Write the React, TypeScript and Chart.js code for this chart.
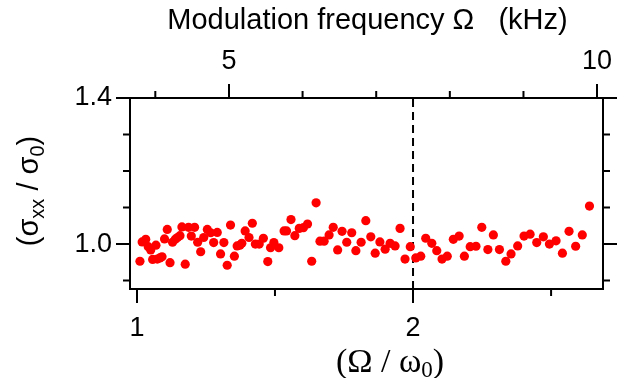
import React, { useEffect, useRef } from "react";
import { Chart, registerables } from "chart.js";

Chart.register(...registerables);

// ---- data ----
const ratioX: number[] = [
  1.011, 1.019, 1.032, 1.041, 1.05, 1.057, 1.069, 1.074, 1.083, 1.091,
  1.1, 1.11, 1.12, 1.129, 1.139, 1.147, 1.156, 1.163, 1.175, 1.187,
  1.197, 1.209, 1.22, 1.231, 1.242, 1.255, 1.267, 1.278, 1.291, 1.303,
  1.315, 1.327, 1.339, 1.353, 1.363, 1.373, 1.38, 1.392, 1.406, 1.418,
  1.429, 1.443, 1.458, 1.474, 1.484, 1.496, 1.514, 1.533, 1.542, 1.558,
  1.572, 1.588, 1.603, 1.618, 1.633, 1.649, 1.663, 1.678, 1.696, 1.711,
  1.727, 1.743, 1.76, 1.778, 1.793, 1.812, 1.829, 1.847, 1.863, 1.88,
  1.899, 1.917, 1.935, 1.953, 1.971, 1.99, 2.01, 2.028, 2.046, 2.068,
  2.086, 2.105, 2.124, 2.146, 2.167, 2.186, 2.207, 2.228, 2.249, 2.271,
  2.291, 2.313, 2.336, 2.355, 2.379, 2.402, 2.424, 2.448, 2.472, 2.494,
  2.518, 2.541, 2.565, 2.589, 2.613, 2.639,
];
const sigmaRatio: number[] = [
  0.953, 1.006, 1.013, 0.993, 0.984, 0.958, 0.997, 0.959, 0.962, 0.965,
  1.014, 1.04, 0.949, 1.005, 1.013, 1.018, 1.023, 1.047, 0.945, 1.046,
  1.022, 1.046, 1.005, 0.979, 1.018, 1.04, 1.031, 1.004, 1.032, 0.973,
  1.004, 0.942, 1.052, 0.967, 0.995, 0.997, 1.002, 1.036, 1.018, 1.057,
  1.0, 1.0, 1.016, 0.952, 0.99, 1.004, 0.99, 1.036, 1.036, 1.067,
  1.023, 1.043, 1.045, 1.055, 0.953, 1.113, 1.008, 1.008, 1.025, 1.046,
  0.984, 1.035, 1.005, 1.031, 0.982, 1.005, 1.064, 1.02, 0.975, 1.006,
  0.986, 1.002, 0.995, 1.043, 0.959, 0.993, 0.962, 0.967, 1.016, 1.002,
  0.982, 0.959, 0.967, 1.013, 1.022, 0.967, 0.993, 0.994, 1.046, 0.985,
  1.025, 0.985, 0.953, 0.973, 0.995, 1.022, 1.027, 1.004, 1.02, 1.0,
  1.009, 0.975, 1.035, 0.994, 1.025, 1.104,
];

const omega0kHz = 3.75;
const xMin = 0.975;
const xMax = 2.688;
const yMin = 0.877;
const yMax = 1.4;

const bottomMajor = [1, 2];
const bottomMinor = [1.5, 2.5];
const topMajor = [5, 10];
const topMinor = [4, 6, 7, 8, 9];
const leftMajor = [1.0, 1.4];
const leftMinor = [0.9, 1.1, 1.2, 1.3];
const markerX = 2;

const SANS = '"Liberation Sans", Arial, Helvetica, sans-serif';
const SERIF = '"Liberation Serif", "Times New Roman", serif';

type Seg = { t: string; sub?: boolean };

function drawSegs(
  ctx: CanvasRenderingContext2D,
  segs: Seg[],
  family: string,
  size: number,
  subSize: number,
  subDrop: number
) {
  let total = 0;
  const widths = segs.map((s) => {
    ctx.font = `${s.sub ? subSize : size}px ${family}`;
    const w = ctx.measureText(s.t).width;
    total += w;
    return w;
  });
  let x = -total / 2;
  ctx.textBaseline = "middle";
  ctx.textAlign = "left";
  segs.forEach((s, i) => {
    ctx.font = `${s.sub ? subSize : size}px ${family}`;
    ctx.fillText(s.t, x, s.sub ? subDrop : 0);
    x += widths[i];
  });
}

const decorPlugin = {
  id: "decor",
  afterDraw(chart: any) {
    const ctx: CanvasRenderingContext2D = chart.ctx;
    const { left, right, top, bottom } = chart.chartArea;
    const sx = chart.scales.x;
    const sx2 = chart.scales.x2;
    const sy = chart.scales.y;
    const len = 7;
    ctx.save();
    ctx.strokeStyle = "#000";
    ctx.lineWidth = 2;
    ctx.beginPath();
    bottomMinor.forEach((v) => {
      const p = sx.getPixelForValue(v);
      ctx.moveTo(p, bottom);
      ctx.lineTo(p, bottom + len);
    });
    topMinor.forEach((v) => {
      const p = sx2.getPixelForValue(v);
      ctx.moveTo(p, top);
      ctx.lineTo(p, top - len);
    });
    leftMinor.forEach((v) => {
      const p = sy.getPixelForValue(v);
      ctx.moveTo(left, p);
      ctx.lineTo(left - len, p);
      ctx.moveTo(right, p);
      ctx.lineTo(right + len, p);
    });
    ctx.stroke();

    ctx.fillStyle = "#000";
    // top title
    ctx.save();
    ctx.translate((left + right) / 2 + 1, 21);
    drawSegs(ctx, [{ t: "Modulation frequency Ω   (kHz)" }], SANS, 29, 18, 7);
    ctx.restore();

    // bottom title
    ctx.save();
    ctx.translate(390, 363);
    drawSegs(
      ctx,
      [{ t: "(Ω / ω" }, { t: "0", sub: true }, { t: ")" }],
      SERIF,
      34,
      23,
      8
    );
    ctx.restore();

    // left title
    ctx.save();
    ctx.translate(30, 191);
    ctx.rotate(-Math.PI / 2);
    drawSegs(
      ctx,
      [{ t: "(σ" }, { t: "xx", sub: true }, { t: " / σ" }, { t: "0", sub: true }, { t: ")" }],
      SANS,
      29,
      20,
      8
    );
    ctx.restore();
    ctx.restore();
  },
};

function fixSize(kind: "w" | "h", size: number) {
  return (scale: any) => {
    if (kind === "w") scale.width = size;
    else scale.height = size;
    scale.paddingLeft = 0;
    scale.paddingRight = 0;
    scale.paddingTop = 0;
    scale.paddingBottom = 0;
  };
}

const axisGrid = (tickLength: number) => ({
  display: true,
  drawOnChartArea: false,
  drawTicks: true,
  tickLength,
  lineWidth: 2,
  color: "#000",
});
const axisBorder = { display: true, width: 2, color: "#000" };
const tickFont = { family: SANS, size: 27 };

export default function App() {
  const ref = useRef<HTMLCanvasElement | null>(null);

  useEffect(() => {
    if (!ref.current) return;
    const points = ratioX.map((x, i) => ({ x, y: sigmaRatio[i] }));
    const chart = new Chart(ref.current, {
      type: "scatter",
      data: {
        datasets: [
          {
            data: points,
            backgroundColor: "#ff0000",
            borderWidth: 0,
            pointRadius: 4.6,
            order: 1,
          } as any,
          {
            type: "line",
            data: [
              { x: markerX, y: yMin },
              { x: markerX, y: yMax },
            ],
            borderColor: "#000",
            borderWidth: 2,
            borderDash: [8, 5],
            pointRadius: 0,
            showLine: true,
            order: 2,
          } as any,
        ],
      },
      plugins: [decorPlugin],
      options: {
        animation: false,
        responsive: false,
        devicePixelRatio: 1,
        layout: { padding: 0 },
        plugins: { legend: { display: false }, tooltip: { enabled: false } },
        scales: {
          x: {
            type: "linear",
            position: "bottom",
            min: xMin,
            max: xMax,
            afterBuildTicks: (s: any) => {
              s.ticks = bottomMajor.map((value) => ({ value }));
            },
            afterFit: fixSize("h", 89),
            ticks: {
              autoSkip: false,
              maxRotation: 0,
              padding: 9,
              color: "#000",
              font: tickFont,
              callback: (v: any) => String(v),
            },
            grid: axisGrid(14),
            border: axisBorder,
          },
          x2: {
            type: "linear",
            position: "top",
            min: xMin * omega0kHz,
            max: xMax * omega0kHz,
            afterBuildTicks: (s: any) => {
              s.ticks = topMajor.map((value) => ({ value }));
            },
            afterFit: fixSize("h", 98),
            ticks: {
              autoSkip: false,
              maxRotation: 0,
              padding: 6,
              color: "#000",
              font: tickFont,
              callback: (v: any) => String(v),
            },
            grid: axisGrid(14),
            border: axisBorder,
          },
          y: {
            type: "linear",
            position: "left",
            min: yMin,
            max: yMax,
            afterBuildTicks: (s: any) => {
              s.ticks = leftMajor.map((value) => ({ value }));
            },
            afterFit: fixSize("w", 130),
            ticks: {
              autoSkip: false,
              padding: 4,
              color: "#000",
              font: tickFont,
              callback: (v: any) => Number(v).toFixed(1),
            },
            grid: axisGrid(14),
            border: axisBorder,
          },
          y2: {
            type: "linear",
            position: "right",
            min: yMin,
            max: yMax,
            afterBuildTicks: (s: any) => {
              s.ticks = leftMajor.map((value) => ({ value }));
            },
            afterFit: fixSize("w", 16),
            ticks: { display: false },
            grid: axisGrid(14),
            border: axisBorder,
          },
        },
      } as any,
    });
    return () => chart.destroy();
  }, []);

  return (
    <div style={{ position: "absolute", left: 0, top: 0, width: 619, height: 378, background: "#fff" }}>
      <canvas ref={ref} width={619} height={378} style={{ display: "block" }} />
    </div>
  );
}
